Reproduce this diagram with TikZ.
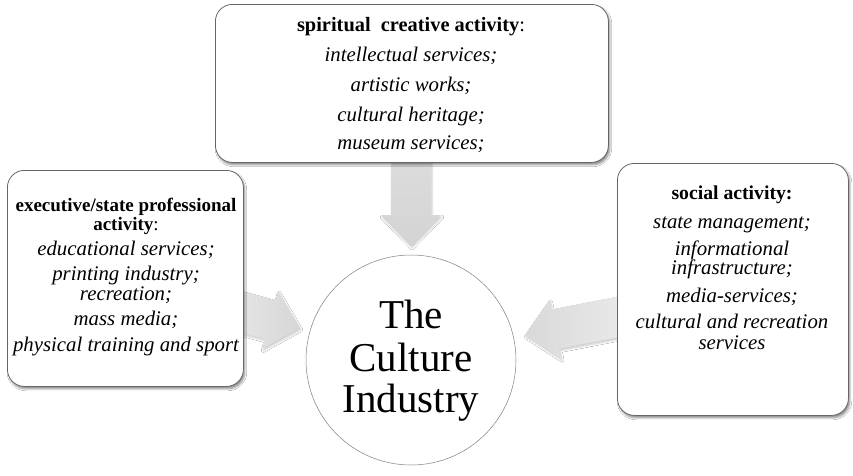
\documentclass[tikz,border=0pt]{standalone}
\usepackage{fontspec}
\setmainfont{Liberation Serif}
\usetikzlibrary{calc,shadows,shadows.blur}
\newcommand\fatarr[3]{%
  \coordinate (hb) at ($(#2)!31pt!(#1)$);
  \path[#3] ($(#1)!20pt!90:(#2)$) -- ($(hb)!20pt!90:(#2)$) -- ($(hb)!30pt!90:(#2)$) -- (#2)
    -- ($(hb)!30pt!-90:(#2)$) -- ($(hb)!20pt!-90:(#2)$) -- ($(#1)!20pt!-90:(#2)$) -- cycle;}
\begin{document}
\begin{tikzpicture}[x=1pt,y=-1pt,
  box/.style={draw=black!60, line width=0.8pt, fill=white, rounded corners=17pt,
    blur shadow={shadow xshift=1.5pt, shadow yshift=-2.5pt, shadow blur steps=6, shadow opacity=45}},
  arr/.style={blur shadow={shadow xshift=1pt, shadow yshift=-2pt, shadow blur steps=5, shadow opacity=20}},
  txt/.style={inner sep=0pt, anchor=base, font=\fontsize{20.8}{21}\selectfont\itshape},
  ttl/.style={inner sep=0pt, anchor=base, font=\fontsize{19.7}{20}\selectfont\bfseries},
  big/.style={inner sep=0pt, anchor=base, font=\fontsize{41}{42}\selectfont}]
\useasboundingbox (0,0) rectangle (853,475);
\fill[white] (0,0) rectangle (853,475);
% connector endpoints
\coordinate (ds) at (411,140);
\coordinate (dt) at (411,246);
\coordinate (ls) at (200,300.4);
\coordinate (lt) at (300,328);
\coordinate (rs) at (660,308.7);
\coordinate (rt) at (525,335);
% arrows
\fatarr{ds}{dt}{arr, top color=black!13, bottom color=black!17}
\fatarr{ls}{lt}{arr, left color=black!6, right color=black!16}
\fatarr{rs}{rt}{arr, right color=black!6, left color=black!15}
% boxes
\node[box, anchor=north west, minimum width=393pt, minimum height=158pt] (top) at (215,4) {};
\node[box, anchor=north west, minimum width=236pt, minimum height=216pt] (left) at (7,170) {};
\node[box, anchor=north west, minimum width=231pt, minimum height=252pt] (right) at (617,163) {};
\node[circle, draw=black!50, line width=0.5pt, fill=white, minimum size=210pt] (ci) at (411,360) {};
% top box text
\node[ttl, font=\fontsize{20.4}{21}\selectfont\bfseries] (t0) at (411,31) {spiritual\ \ creative activity\textmd{:}};
\node[txt] (t1) at (411,61) {intellectual services;};
\node[txt] (t2) at (411,91) {artistic works;};
\node[txt] (t3) at (411,121) {cultural heritage;};
\node[txt] (t4) at (411,149) {museum services;};
% left box text
\node[ttl, font=\fontsize{19}{20}\selectfont\bfseries] (l0) at (126,211) {executive/state professional};
\node[ttl, font=\fontsize{19}{20}\selectfont\bfseries] (l1) at (126,230) {activity\textmd{:}};
\node[txt] (l2) at (126,255) {educational services;};
\node[txt] (l3) at (126,280) {printing industry;};
\node[txt] (l4) at (126,300) {recreation;};
\node[txt] (l5) at (126,325) {mass media;};
\node[txt] (l6) at (126,351) {physical training and sport};
% right box text
\node[ttl] (r0) at (732,199) {social activity:};
\node[txt] (r1) at (732,228) {state management;};
\node[txt] (r2) at (732,255) {informational};
\node[txt] (r3) at (732,274) {infrastructure;};
\node[txt] (r4) at (732,302) {media-services;};
\node[txt] (r5) at (732,328) {cultural and recreation};
\node[txt] (r6) at (732,349) {services};
% circle text
\node[big] (c1) at (411,328) {The};
\node[big] (c2) at (411,371) {Culture};
\node[big] (c3) at (411,412) {Industry};
\end{tikzpicture}
\end{document}
